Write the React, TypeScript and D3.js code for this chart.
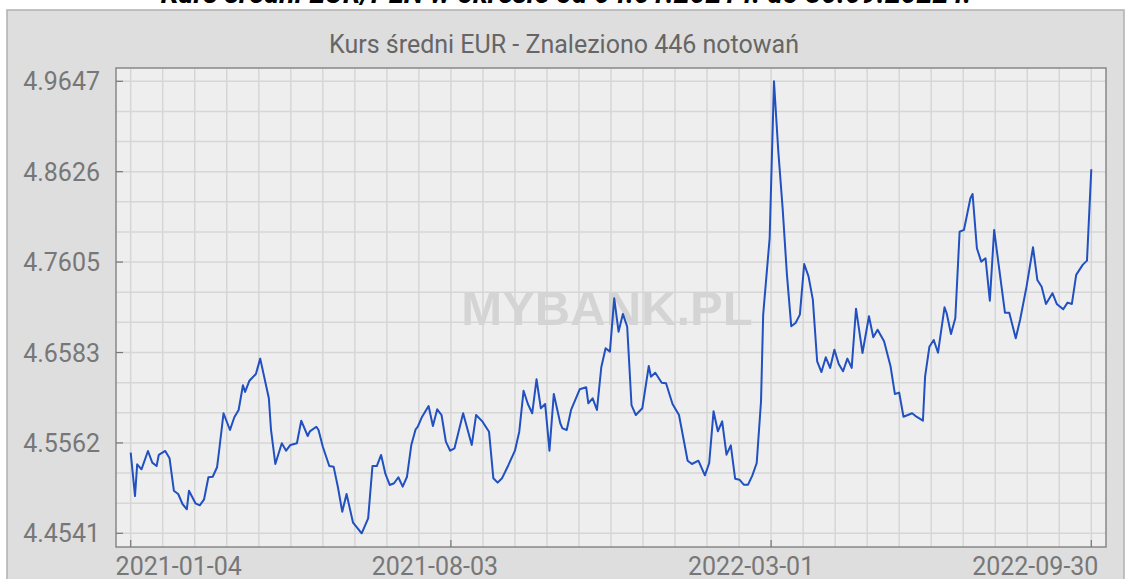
import React from "react";
import * as d3 from "d3";

const W = 1131;
const H = 579;

const chartTitle = "Kurs średni EUR/PLN w okresie od 04.01.2021 r. do 30.09.2022 r.";
const subTitle = "Kurs średni EUR - Znaleziono 446 notowań";
const watermark = "MYBANK.PL";

const quoteCount = 446;
const xTickIdx = [0, 148.33, 296.67, 445];
const xTickLabels = ["2021-01-04", "2021-08-03", "2022-03-01", "2022-09-30"];
const yTickValues = [4.4541, 4.5562, 4.6583, 4.7605, 4.8626, 4.9647];

// quote index (0 = 2021-01-04, 445 = 2022-09-30)
const quoteIdx = [
  0, 2, 3, 5, 8, 10, 12, 13, 16, 18, 20, 22, 24, 26, 27, 30, 32, 34, 36, 38, 40, 41, 43, 46, 48, 50,
  52, 53, 55, 58, 60, 64, 65, 67, 70, 72, 74, 77, 79, 82, 83, 86, 87, 89, 92, 94, 96, 98, 100, 103,
  106, 107, 110, 112, 114, 116, 118, 120, 122, 124, 126, 128, 130, 132, 133, 135, 138, 140, 142, 144,
  146, 148, 150, 154, 158, 160, 163, 166, 168, 170, 172, 175, 178, 180, 182, 184, 186, 188, 190, 192,
  194, 196, 199, 200, 202, 204, 208, 211, 212, 214, 216, 218, 220, 222, 224, 226, 228, 230, 232, 234,
  237, 240, 241, 243, 246, 248, 251, 254, 258, 260, 263, 266, 268, 270, 272, 274, 276, 278, 280, 282,
  284, 286, 288, 290, 292, 293, 296, 298, 300, 302, 304, 306, 308, 310, 312, 314, 316, 318, 320, 322,
  324, 326, 328, 330, 332, 334, 336, 339, 342, 344, 346, 349, 352, 354, 356, 358, 362, 364, 367, 368,
  370, 372, 374, 377, 378, 380, 382, 384, 386, 389, 390, 392, 394, 396, 398, 400, 402, 405, 407, 410,
  412, 415, 418, 420, 422, 424, 427, 429, 432, 434, 436, 438, 441, 443, 445,
];

// EUR mid rate
const rate = [
  4.5452, 4.4962, 4.532, 4.5264, 4.5471, 4.5339, 4.5301, 4.5426, 4.5471, 4.5388, 4.5022, 4.4985, 4.4872,
  4.4812, 4.5022, 4.488, 4.4857, 4.4925, 4.5174, 4.518, 4.5287, 4.5482, 4.5897, 4.5708, 4.5852, 4.5934,
  4.6213, 4.6138, 4.6265, 4.6341, 4.6514, 4.6066, 4.5708, 4.5324, 4.5558, 4.5474, 4.5539, 4.5558, 4.5813,
  4.564, 4.5693, 4.5745, 4.5708, 4.5519, 4.5301, 4.5294, 4.5061, 4.4785, 4.4985, 4.4661, 4.457, 4.4541,
  4.471, 4.5301, 4.5301, 4.5426, 4.5211, 4.5087, 4.5106, 4.5174, 4.5068, 4.518, 4.5539, 4.5716, 4.5745,
  4.5858, 4.5979, 4.5753, 4.5942, 4.5877, 4.5576, 4.5474, 4.5501, 4.5897, 4.5539, 4.5877, 4.5802, 4.5689,
  4.5162, 4.5113, 4.5162, 4.5313, 4.5474, 4.5689, 4.6152, 4.6002, 4.5897, 4.6281, 4.5953, 4.6002, 4.5474,
  4.6115, 4.5784, 4.5727, 4.5708, 4.5934, 4.6168, 4.6191, 4.601, 4.6066, 4.5934, 4.6417, 4.6631, 4.6593,
  4.7196, 4.6819, 4.7019, 4.6875, 4.599, 4.5877, 4.5953, 4.6431, 4.631, 4.6355, 4.6242, 4.6236, 4.6002,
  4.5877, 4.5361, 4.5324, 4.5361, 4.5196, 4.5335, 4.5919, 4.5693, 4.5806, 4.5429, 4.5535, 4.5158, 4.5147,
  4.509, 4.509, 4.5196, 4.5335, 4.6033, 4.7011, 4.7877, 4.9647, 4.8857, 4.8216, 4.7463, 4.688, 4.6917,
  4.7011, 4.7583, 4.7444, 4.718, 4.6484, 4.6363, 4.6529, 4.6409, 4.6615, 4.6454, 4.6371, 4.6514, 4.6409,
  4.7078, 4.6578, 4.6993, 4.6755, 4.6841, 4.671, 4.6428, 4.6115, 4.613, 4.5858, 4.5897, 4.5858, 4.5813,
  4.631, 4.6649, 4.6725, 4.6581, 4.7094, 4.7027, 4.6793, 4.697, 4.7948, 4.7968, 4.8326, 4.8374, 4.7761,
  4.761, 4.7648, 4.7169, 4.7968, 4.7591, 4.7033, 4.7033, 4.6744, 4.6951, 4.7327, 4.7772, 4.7403, 4.7327,
  4.7132, 4.7253, 4.7132, 4.7072, 4.7147, 4.7132, 4.746, 4.7573, 4.7621, 4.8654,
];

const plot = { left: 116, right: 1106, top: 68, bottom: 547 };

export default function App() {
  const x = d3.scaleLinear().domain([0, quoteCount - 1]).range([130.7, 1091.3]);
  const y = d3.scaleLinear().domain([4.4541, 4.9647]).range([533.3, 81.3]);

  const xGrid = d3.range(0, 31).map((k) => (k * (quoteCount - 1)) / 30);
  const yStep = (4.9647 - 4.4541) / 15;
  const yGrid = d3.range(0, 16).map((k) => 4.4541 + k * yStep);

  const pts: [number, number][] = quoteIdx.map((q, i) => [q, rate[i]]);
  const line = d3
    .line<[number, number]>()
    .x((d) => x(d[0]))
    .y((d) => y(d[1]));

  const labelDx = [48, -16, -20, -56];
  const font = "Roboto, 'Liberation Sans', Arial, sans-serif";

  return (
    <svg
      width={W}
      height={H}
      style={{ position: "absolute", left: 0, top: 0, background: "#ffffff" }}
      fontFamily={font}
    >
      <text
        x={566}
        y={3}
        textAnchor="middle"
        fontSize={28.5}
        fontWeight="bold"
        fontStyle="italic"
        fill="#000"
      >
        {chartTitle}
      </text>
      <rect x={7} y={10} width={1117} height={600} fill="#dedede" stroke="#b0b0b0" strokeWidth={1.5} />
      <text x={564} y={53} textAnchor="middle" fontSize={25} fill="#666">
        {subTitle}
      </text>
      <rect
        x={plot.left}
        y={plot.top}
        width={plot.right - plot.left}
        height={plot.bottom - plot.top}
        fill="#eeeeee"
      />
      <g stroke="#d6d6d6" strokeWidth={1.5}>
        {xGrid.map((g, i) => (
          <line key={"xg" + i} x1={x(g)} x2={x(g)} y1={plot.top} y2={plot.bottom} />
        ))}
        {yGrid.map((g, i) => (
          <line key={"yg" + i} x1={plot.left} x2={plot.right} y1={y(g)} y2={y(g)} />
        ))}
      </g>
      <text
        x={607}
        y={325}
        textAnchor="middle"
        fontSize={49}
        fontWeight="bold"
        fontFamily="'Liberation Sans', Arial, sans-serif"
        fill="#d4d4d4"
      >
        {watermark}
      </text>
      <path d={line(pts) || ""} fill="none" stroke="#2150c0" strokeWidth={2} strokeLinejoin="round" />
      <rect
        x={plot.left}
        y={plot.top}
        width={plot.right - plot.left}
        height={plot.bottom - plot.top}
        fill="none"
        stroke="#888"
        strokeWidth={1.5}
      />
      <g stroke="#777" strokeWidth={1.2}>
        {yTickValues.map((v, i) => (
          <line key={"yt" + i} x1={plot.left} x2={plot.left + 7} y1={y(v)} y2={y(v)} />
        ))}
        {xTickIdx.map((q, i) => (
          <line key={"xt" + i} x1={x(q)} x2={x(q)} y1={plot.bottom} y2={plot.bottom - 7} />
        ))}
      </g>
      {yTickValues.map((v, i) => (
        <text key={"yl" + i} x={100} y={y(v) + 9} textAnchor="end" fontSize={25} fill="#777">
          {v.toFixed(4)}
        </text>
      ))}
      {xTickIdx.map((q, i) => (
        <text key={"xl" + i} x={x(q) + labelDx[i]} y={575} textAnchor="middle" fontSize={25} fill="#777">
          {xTickLabels[i]}
        </text>
      ))}
    </svg>
  );
}
